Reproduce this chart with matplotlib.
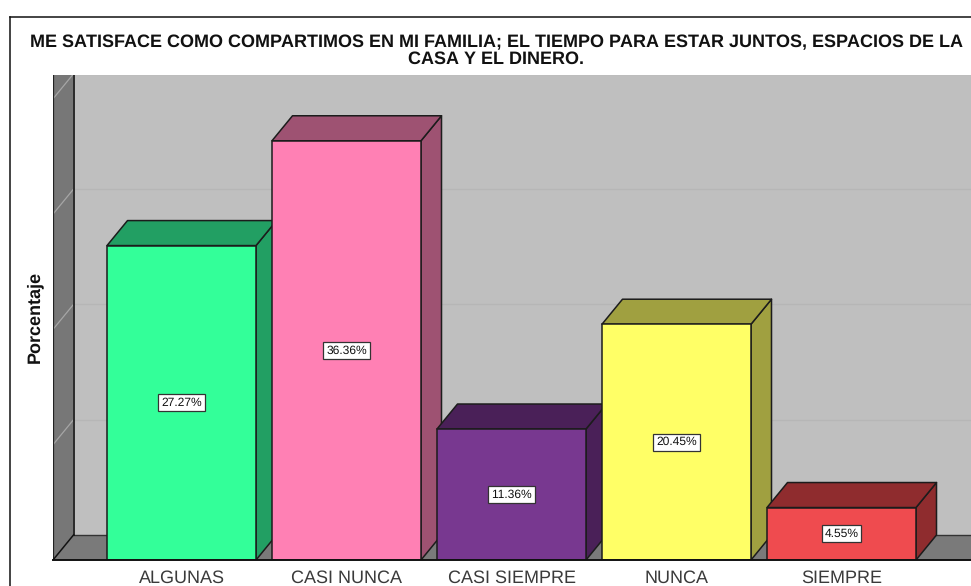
import matplotlib
matplotlib.use("Agg")
import matplotlib.pyplot as plt
from matplotlib.patches import Polygon
from matplotlib.lines import Line2D

categories = ["ALGUNAS", "CASI NUNCA", "CASI SIEMPRE", "NUNCA", "SIEMPRE"]
values = [27.27, 36.36, 11.36, 20.45, 4.55]
value_labels = ["27.27%", "36.36%", "11.36%", "20.45%", "4.55%"]
front_colors = ["#33FF99", "#FF80B4", "#783890", "#FFFF66", "#EF4B4F"]
depth_colors = ["#229F63", "#9E5272", "#4A2058", "#A0A040", "#8F2C2E"]
grid_levels = [10, 20, 30, 40]
title = ("ME SATISFACE COMO COMPARTIMOS EN MI FAMILIA; EL TIEMPO PARA ESTAR JUNTOS, ESPACIOS DE LA\n"
         "CASA Y EL DINERO.")

W, H = 971, 586
plt.rcParams["font.family"] = ["Liberation Sans", "DejaVu Sans"]
plt.rcParams["text.hinting"] = "no_hinting"
plt.rcParams["text.hinting_factor"] = 1
fig = plt.figure(figsize=(W / 100, H / 100), dpi=100, facecolor="white")

# outer frame
for xs, ys in [((9.5, 971), (16.5, 16.5)), ((9.5, 9.5), (16.5, 586))]:
    fig.add_artist(Line2D([x / W for x in xs], [1 - y / H for y in ys], color="#111111", lw=1.1))

left, right, top, bottom = 53, 971, 75, 560
ax = fig.add_axes([left / W, 1 - bottom / H, (right - left) / W, (bottom - top) / H])
px_per_cat = 165.0
px_per_pct = 11.53
x0 = 181.5
ax.set_xlim((left - x0) / px_per_cat, (right - x0) / px_per_cat)
ax.set_ylim(0, (bottom - top) / px_per_pct)
for s in ax.spines.values():
    s.set_visible(False)

dx = 20.5 / px_per_cat
dy = 25.0 / px_per_pct
xl, xr = ax.get_xlim()
yt = ax.get_ylim()[1]
edge = "#1C1C1C"

# back wall, side wall, floor
ax.add_patch(Polygon([(xl + dx, dy), (xr, dy), (xr, yt), (xl + dx, yt)], fc="#BFBFBF", ec="none", zorder=1))
ax.add_patch(Polygon([(xl, 0), (xl + dx, dy), (xl + dx, yt), (xl, yt)], fc="#777777", ec="none", zorder=1))
ax.add_patch(Polygon([(xl, 0), (xr, 0), (xr, dy), (xl + dx, dy)], fc="#7A7A7A", ec="none", zorder=1))
for g in grid_levels:
    ax.plot([xl + dx, xr], [g + dy, g + dy], color="#B6B6B6", lw=0.9, zorder=2)
    ax.plot([xl, xl + dx], [g, g + dy], color="#A6A6A6", lw=0.9, zorder=2)
ax.plot([xl + dx, xr], [dy, dy], color="#333333", lw=1.0, zorder=2)
ax.plot([xl + dx, xl + dx], [dy, yt], color="#111111", lw=1.2, zorder=2)
ax.plot([xl, xl], [0, yt], color="#222222", lw=1.6, zorder=2)
ax.plot([xl, xl + dx], [0, dy], color="#111111", lw=1.1, zorder=2)

# bars, left to right so each one covers the previous one's side
width = 149.0 / px_per_cat
for i, v in enumerate(values):
    z = 3 + i
    a, b = i - width / 2, i + width / 2
    ax.add_patch(Polygon([(b, 0), (b + dx, dy), (b + dx, v + dy), (b, v)],
                         fc=depth_colors[i], ec=edge, lw=1.1, zorder=z, joinstyle="round"))
    ax.add_patch(Polygon([(a, v), (b, v), (b + dx, v + dy), (a + dx, v + dy)],
                         fc=depth_colors[i], ec=edge, lw=1.1, zorder=z, joinstyle="round"))
    ax.bar(i, v, width=width, color=front_colors[i], edgecolor=edge, lw=1.1, zorder=z)
    ax.text(i, v / 2, value_labels[i], ha="center", va="center", fontsize=8.9, color="#111111",
            zorder=20, bbox=dict(boxstyle="square,pad=0.24", fc="white", ec="#333333", lw=0.9))

ax.plot([xl, xr], [0, 0], color="#111111", lw=1.4, zorder=15, clip_on=False)

ax.set_xticks(range(len(categories)), categories)
ax.tick_params(axis="x", length=0, pad=7, labelsize=12.8, labelcolor="#3A3A3A")
ax.set_yticks([])
ax.set_ylabel("Porcentaje", fontsize=13.2, fontweight="bold", color="#111111")
ax.yaxis.set_label_coords((43 - left) / (right - left), (bottom - 317) / (bottom - top))

fig.text(496.5 / W, 1 - 51 / H, title, ha="center", va="center", fontsize=13.32, fontweight="bold",
         color="#111111", linespacing=1.03)

fig.savefig("out.png", dpi=100)
